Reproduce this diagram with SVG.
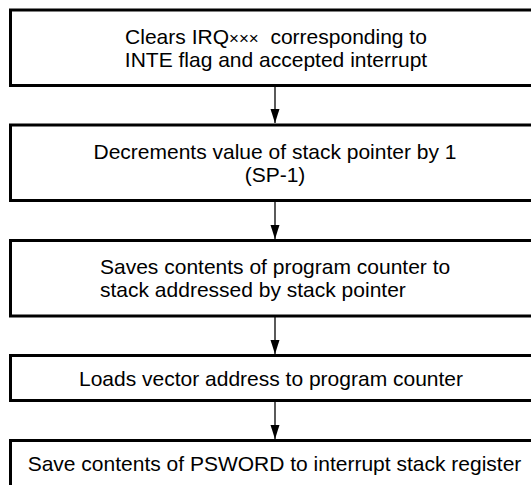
<svg xmlns="http://www.w3.org/2000/svg" width="531" height="485" viewBox="0 0 531 485">
<style>
.box{fill:#fff;stroke:#000;stroke-width:3}
.t{font-family:"Liberation Sans",Arial,sans-serif;font-size:21px;fill:#000}
.c{text-anchor:middle}
.edge{stroke:#000;stroke-width:1.3;fill:none}
</style>
<defs>
<marker id="ah" markerUnits="userSpaceOnUse" markerWidth="15" markerHeight="10" refX="14" refY="5" orient="auto" viewBox="0 0 15 10">
<path d="M0,0.5 L14,5 L0,9.5 Z" fill="#000"/>
</marker>
</defs>
<rect width="531" height="485" fill="#fff"/>
<g id="connectors">
<line class="edge" x1="275" y1="87" x2="275" y2="123" marker-end="url(#ah)"/>
<line class="edge" x1="275" y1="202" x2="275" y2="239" marker-end="url(#ah)"/>
<line class="edge" x1="275" y1="317" x2="275" y2="354" marker-end="url(#ah)"/>
<line class="edge" x1="275" y1="402" x2="275" y2="439" marker-end="url(#ah)"/>
</g>
<g id="n1">
<rect class="box" x="10.5" y="10" width="540" height="75.5"/>
<text class="t c" x="276" y="44" style="white-space:pre">Clears IRQ<tspan font-size="17">×××</tspan>  corresponding to</text>
<text class="t c" x="276" y="67">INTE flag and accepted interrupt</text>
</g>
<g id="n2">
<rect class="box" x="10.5" y="125" width="540" height="75.5"/>
<text class="t c" x="275" y="159">Decrements value of stack pointer by 1</text>
<text class="t c" x="275" y="182">(SP-1)</text>
</g>
<g id="n3">
<rect class="box" x="10.5" y="240.5" width="540" height="75.5"/>
<text class="t" x="100" y="274">Saves contents of program counter to</text>
<text class="t" x="100" y="297">stack addressed by stack pointer</text>
</g>
<g id="n4">
<rect class="box" x="10.5" y="355.5" width="540" height="45"/>
<text class="t c" x="271" y="386">Loads vector address to program counter</text>
</g>
<g id="n5">
<rect class="box" x="10.5" y="440.5" width="540" height="60"/>
<text class="t c" x="274.5" y="471">Save contents of PSWORD to interrupt stack register</text>
</g>
</svg>
